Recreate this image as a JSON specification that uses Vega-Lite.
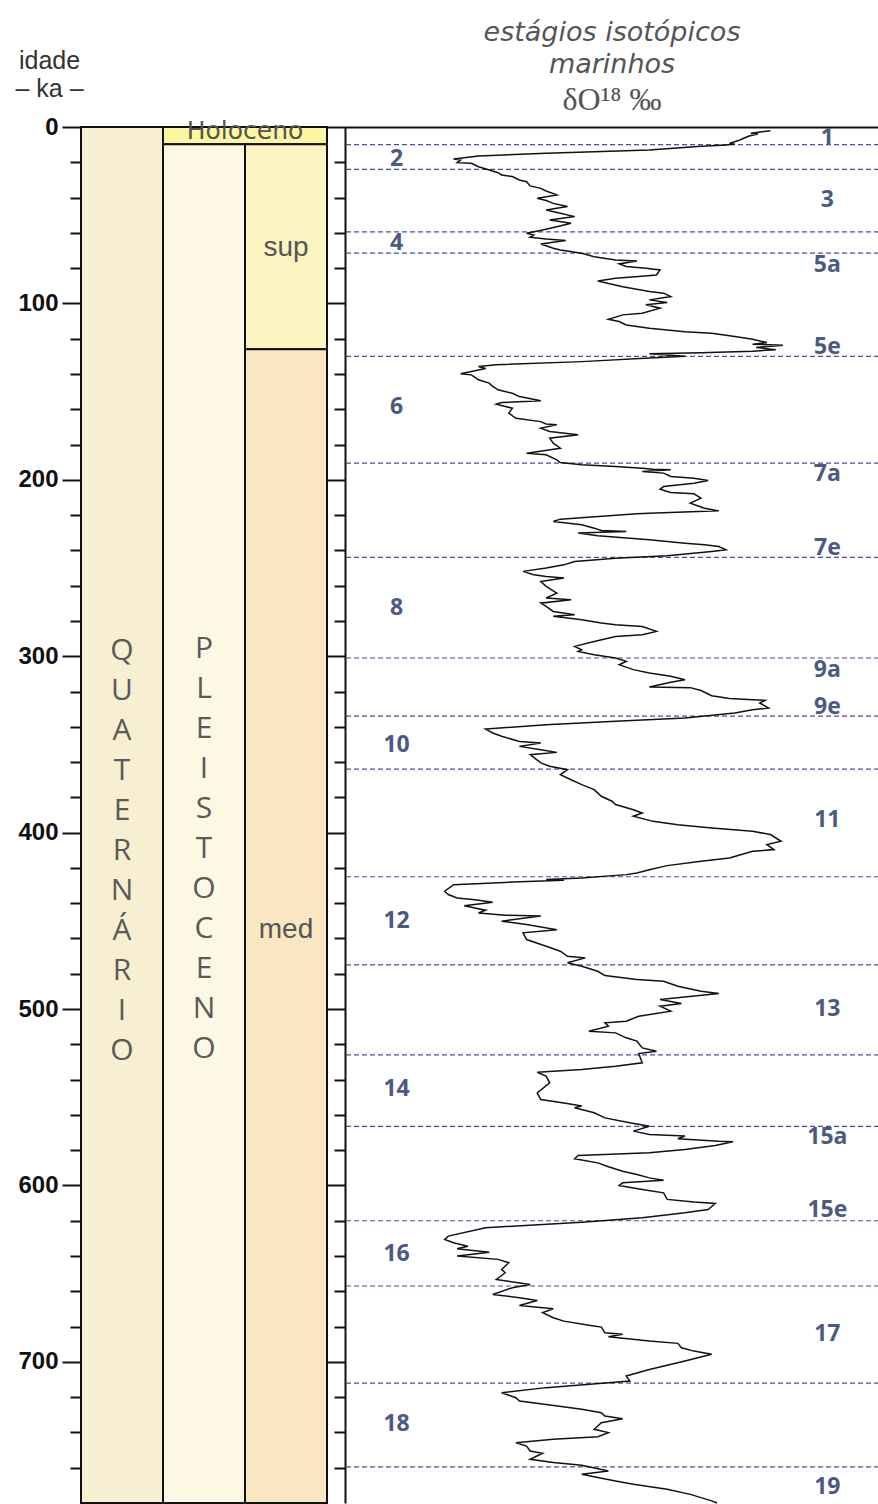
{
  "$schema": "https://vega.github.io/schema/vega-lite/v6.json",
  "background": "white",
  "padding": {"left": 14, "top": 19, "right": 0, "bottom": 0},
  "config": {
    "view": {"stroke": null},
    "axis": {"domainColor": "#111111", "tickColor": "#111111", "domainWidth": 2, "tickWidth": 2, "grid": false}
  },
  "datasets": {
    "units": [
      {"unit": "Quaternário", "c0": 0, "c1": 1, "ka0": 0, "ka1": 780},
      {"unit": "Holoceno", "c0": 1, "c1": 3, "ka0": 0, "ka1": 9.8},
      {"unit": "Pleistoceno", "c0": 1, "c1": 2, "ka0": 9.8, "ka1": 780},
      {"unit": "Pleistoceno superior", "c0": 2, "c1": 3, "ka0": 9.8, "ka1": 126},
      {"unit": "Pleistoceno médio", "c0": 2, "c1": 3, "ka0": 126, "ka1": 780}
    ],
    "unitLabels": [
      {"kind": "coluna", "label": "Q\nU\nA\nT\nE\nR\nN\nÁ\nR\nI\nO", "c": 0.5, "ka": 297},
      {"kind": "coluna", "label": "P\nL\nE\nI\nS\nT\nO\nC\nE\nN\nO", "c": 1.5, "ka": 296},
      {"kind": "holoceno", "label": "Holoceno", "c": 2, "ka": 2.2},
      {"kind": "sub", "label": "sup", "c": 2.5, "ka": 68.4},
      {"kind": "sub", "label": "med", "c": 2.5, "ka": 455.3}
    ],
    "stages": [
      {"ka": 10}, {"ka": 24}, {"ka": 59.5}, {"ka": 71.5}, {"ka": 130}, {"ka": 190.5},
      {"ka": 244}, {"ka": 301}, {"ka": 334}, {"ka": 364}, {"ka": 425}, {"ka": 475},
      {"ka": 526}, {"ka": 566.5}, {"ka": 620}, {"ka": 657}, {"ka": 712}, {"ka": 759.5}
    ],
    "stageLabels": [
      {"stage": "1", "ka": 6.4, "d18O": 2.89},
      {"stage": "2", "ka": 18.3, "d18O": 5.31},
      {"stage": "3", "ka": 41.4, "d18O": 2.89},
      {"stage": "4", "ka": 65.9, "d18O": 5.31},
      {"stage": "5a", "ka": 78.2, "d18O": 2.89},
      {"stage": "5e", "ka": 124.5, "d18O": 2.89},
      {"stage": "6", "ka": 158.8, "d18O": 5.31},
      {"stage": "7a", "ka": 196.6, "d18O": 2.89},
      {"stage": "7e", "ka": 238.7, "d18O": 2.89},
      {"stage": "8", "ka": 272.7, "d18O": 5.31},
      {"stage": "9a", "ka": 308, "d18O": 2.89},
      {"stage": "9e", "ka": 329, "d18O": 2.89},
      {"stage": "10", "ka": 350.1, "d18O": 5.31},
      {"stage": "11", "ka": 392.6, "d18O": 2.89},
      {"stage": "12", "ka": 450.2, "d18O": 5.31},
      {"stage": "13", "ka": 499.9, "d18O": 2.89},
      {"stage": "14", "ka": 545.6, "d18O": 5.31},
      {"stage": "15a", "ka": 572.4, "d18O": 2.89},
      {"stage": "15e", "ka": 614, "d18O": 2.89},
      {"stage": "16", "ka": 639.1, "d18O": 5.31},
      {"stage": "17", "ka": 684.4, "d18O": 2.89},
      {"stage": "18", "ka": 735.4, "d18O": 5.31},
      {"stage": "19", "ka": 770.7, "d18O": 2.89}
    ],
    "curve": [
      {"ka":2.1,"d18O":3.21},{"ka":3.6,"d18O":3.32},{"ka":4.0,"d18O":3.28},{"ka":5.1,"d18O":3.33},{"ka":6.4,"d18O":3.36},{"ka":7.7,"d18O":3.39},{"ka":9.3,"d18O":3.44},{"ka":9.6,"d18O":3.41},{"ka":10.2,"d18O":3.46},{"ka":11.1,"d18O":3.62},{"ka":13.0,"d18O":3.89},{"ka":14.9,"d18O":4.47},{"ka":16.4,"d18O":4.85},{"ka":18.1,"d18O":4.99},{"ka":18.7,"d18O":4.95},{"ka":20.2,"d18O":4.97},{"ka":20.6,"d18O":4.89},{"ka":22.5,"d18O":4.85},{"ka":24.4,"d18O":4.79},{"ka":25.9,"d18O":4.74},{"ka":27.2,"d18O":4.72},{"ka":28.1,"d18O":4.66},{"ka":30.0,"d18O":4.62},{"ka":31.0,"d18O":4.58},{"ka":33.4,"d18O":4.56},{"ka":34.8,"d18O":4.50},{"ka":36.3,"d18O":4.47},{"ka":38.5,"d18O":4.41},{"ka":40.4,"d18O":4.52},{"ka":41.7,"d18O":4.47},{"ka":43.3,"d18O":4.43},{"ka":45.1,"d18O":4.35},{"ka":47.0,"d18O":4.47},{"ka":48.9,"d18O":4.39},{"ka":50.8,"d18O":4.31},{"ka":52.7,"d18O":4.45},{"ka":54.6,"d18O":4.33},{"ka":56.5,"d18O":4.41},{"ka":58.4,"d18O":4.49},{"ka":60.2,"d18O":4.58},{"ka":61.2,"d18O":4.54},{"ka":62.5,"d18O":4.56},{"ka":63.5,"d18O":4.47},{"ka":64.4,"d18O":4.36},{"ka":66.3,"d18O":4.50},{"ka":68.7,"d18O":4.43},{"ka":69.7,"d18O":4.39},{"ka":71.6,"d18O":4.27},{"ka":73.5,"d18O":4.20},{"ka":75.4,"d18O":4.08},{"ka":75.9,"d18O":3.96},{"ka":77.6,"d18O":4.06},{"ka":79.1,"d18O":4.02},{"ka":80.1,"d18O":3.91},{"ka":81.0,"d18O":3.83},{"ka":83.9,"d18O":3.85},{"ka":84.8,"d18O":3.95},{"ka":85.7,"d18O":4.08},{"ka":87.3,"d18O":4.18},{"ka":90.5,"d18O":4.04},{"ka":93.3,"d18O":3.89},{"ka":94.2,"d18O":3.81},{"ka":96.1,"d18O":3.77},{"ka":98.0,"d18O":3.89},{"ka":99.5,"d18O":3.79},{"ka":100.8,"d18O":3.91},{"ka":102.7,"d18O":3.83},{"ka":105.6,"d18O":3.93},{"ka":106.5,"d18O":4.04},{"ka":109.0,"d18O":4.12},{"ka":110.3,"d18O":4.06},{"ka":112.2,"d18O":4.02},{"ka":114.1,"d18O":3.89},{"ka":116.0,"d18O":3.69},{"ka":116.9,"d18O":3.54},{"ka":118.8,"d18O":3.41},{"ka":120.3,"d18O":3.31},{"ka":122.2,"d18O":3.23},{"ka":123.1,"d18O":3.31},{"ka":123.7,"d18O":3.14},{"ka":125.0,"d18O":3.29},{"ka":126.2,"d18O":3.18},{"ka":127.1,"d18O":3.31},{"ka":127.9,"d18O":3.60},{"ka":128.6,"d18O":3.89},{"ka":129.9,"d18O":3.69},{"ka":130.9,"d18O":3.89},{"ka":133.0,"d18O":4.27},{"ka":134.8,"d18O":4.75},{"ka":135.8,"d18O":4.85},{"ka":136.9,"d18O":4.81},{"ka":139.9,"d18O":4.95},{"ka":140.5,"d18O":4.89},{"ka":143.3,"d18O":4.85},{"ka":145.2,"d18O":4.79},{"ka":147.1,"d18O":4.77},{"ka":149.0,"d18O":4.74},{"ka":150.9,"d18O":4.66},{"ka":152.8,"d18O":4.62},{"ka":155.2,"d18O":4.50},{"ka":156.2,"d18O":4.72},{"ka":157.1,"d18O":4.75},{"ka":159.4,"d18O":4.66},{"ka":162.2,"d18O":4.68},{"ka":165.1,"d18O":4.64},{"ka":167.0,"d18O":4.50},{"ka":168.3,"d18O":4.47},{"ka":168.8,"d18O":4.41},{"ka":170.7,"d18O":4.50},{"ka":172.6,"d18O":4.45},{"ka":174.5,"d18O":4.29},{"ka":176.4,"d18O":4.45},{"ka":179.2,"d18O":4.43},{"ka":182.1,"d18O":4.39},{"ka":184.9,"d18O":4.58},{"ka":185.8,"d18O":4.47},{"ka":188.7,"d18O":4.41},{"ka":190.2,"d18O":4.39},{"ka":191.5,"d18O":4.27},{"ka":192.4,"d18O":4.08},{"ka":193.4,"d18O":3.93},{"ka":194.0,"d18O":3.87},{"ka":194.3,"d18O":3.77},{"ka":195.3,"d18O":3.93},{"ka":196.2,"d18O":3.81},{"ka":198.1,"d18O":3.77},{"ka":199.1,"d18O":3.64},{"ka":200.4,"d18O":3.56},
      {"ka":201.9,"d18O":3.64},{"ka":203.8,"d18O":3.81},{"ka":205.3,"d18O":3.83},{"ka":207.2,"d18O":3.77},{"ka":207.9,"d18O":3.64},{"ka":210.4,"d18O":3.60},{"ka":213.2,"d18O":3.66},{"ka":214.7,"d18O":3.62},{"ka":216.1,"d18O":3.58},{"ka":217.6,"d18O":3.50},{"ka":218.9,"d18O":3.89},{"ka":219.3,"d18O":3.96},{"ka":222.3,"d18O":4.39},{"ka":223.6,"d18O":4.43},{"ka":225.5,"d18O":4.27},{"ka":227.4,"d18O":4.20},{"ka":228.7,"d18O":4.16},{"ka":229.3,"d18O":4.02},{"ka":230.2,"d18O":4.29},{"ka":231.7,"d18O":4.18},{"ka":234.0,"d18O":3.89},{"ka":235.9,"d18O":3.69},{"ka":236.8,"d18O":3.58},{"ka":237.8,"d18O":3.50},{"ka":239.7,"d18O":3.46},{"ka":240.6,"d18O":3.54},{"ka":243.1,"d18O":3.79},{"ka":244.4,"d18O":4.08},{"ka":246.3,"d18O":4.31},{"ka":248.2,"d18O":4.37},{"ka":250.0,"d18O":4.47},{"ka":251.9,"d18O":4.60},{"ka":253.8,"d18O":4.54},{"ka":254.8,"d18O":4.47},{"ka":255.7,"d18O":4.37},{"ka":257.6,"d18O":4.50},{"ka":260.4,"d18O":4.47},{"ka":264.2,"d18O":4.41},{"ka":267.0,"d18O":4.47},{"ka":268.0,"d18O":4.33},{"ka":269.9,"d18O":4.50},{"ka":271.8,"d18O":4.47},{"ka":274.6,"d18O":4.43},{"ka":276.5,"d18O":4.31},{"ka":277.4,"d18O":4.43},{"ka":279.3,"d18O":4.27},{"ka":281.2,"d18O":4.16},{"ka":282.2,"d18O":4.08},{"ka":283.1,"d18O":3.93},{"ka":285.9,"d18O":3.85},{"ka":287.8,"d18O":3.93},{"ka":288.8,"d18O":4.08},{"ka":291.6,"d18O":4.20},{"ka":294.4,"d18O":4.31},{"ka":296.3,"d18O":4.27},{"ka":297.3,"d18O":4.29},{"ka":299.2,"d18O":4.20},{"ka":301.0,"d18O":4.08},{"ka":302.9,"d18O":4.02},{"ka":304.8,"d18O":4.06},{"ka":307.6,"d18O":3.98},{"ka":309.5,"d18O":3.89},{"ka":311.4,"d18O":3.77},{"ka":313.3,"d18O":3.69},{"ka":314.8,"d18O":3.77},{"ka":317.5,"d18O":3.89},{"ka":317.8,"d18O":3.66},{"ka":319.4,"d18O":3.60},{"ka":322.4,"d18O":3.54},{"ka":323.9,"d18O":3.44},{"ka":324.6,"d18O":3.31},{"ka":325.0,"d18O":3.24},{"ka":326.5,"d18O":3.27},{"ka":329.4,"d18O":3.22},{"ka":330.3,"d18O":3.31},{"ka":332.2,"d18O":3.41},{"ka":335.0,"d18O":3.69},{"ka":336.9,"d18O":4.08},{"ka":338.8,"d18O":4.47},{"ka":341.3,"d18O":4.81},{"ka":343.5,"d18O":4.77},{"ka":345.4,"d18O":4.72},{"ka":348.3,"d18O":4.62},{"ka":349.2,"d18O":4.50},{"ka":351.1,"d18O":4.62},{"ka":353.0,"d18O":4.50},{"ka":354.5,"d18O":4.41},{"ka":355.8,"d18O":4.56},{"ka":360.5,"d18O":4.50},{"ka":362.4,"d18O":4.45},{"ka":364.3,"d18O":4.35},{"ka":367.1,"d18O":4.39},{"ka":370.0,"d18O":4.33},{"ka":372.8,"d18O":4.27},{"ka":375.6,"d18O":4.20},{"ka":379.4,"d18O":4.16},{"ka":382.2,"d18O":4.10},{"ka":384.1,"d18O":4.08},{"ka":387.0,"d18O":3.98},{"ka":388.9,"d18O":3.93},{"ka":390.7,"d18O":3.98},{"ka":393.6,"d18O":3.87},{"ka":395.5,"d18O":3.73},{"ka":397.4,"d18O":3.54},{"ka":399.2,"d18O":3.31},{"ka":401.1,"d18O":3.21},{"ka":404.9,"d18O":3.15},{"ka":406.8,"d18O":3.23},{"ka":409.6,"d18O":3.19},
      {"ka":410.6,"d18O":3.31},{"ka":414.4,"d18O":3.44},{"ka":416.2,"d18O":3.60},{"ka":418.7,"d18O":3.79},{"ka":421.0,"d18O":3.89},{"ka":422.9,"d18O":3.96},{"ka":423.8,"d18O":4.02},{"ka":425.7,"d18O":4.27},{"ka":426.6,"d18O":4.47},{"ka":427.0,"d18O":4.37},{"ka":428.0,"d18O":4.66},{"ka":429.5,"d18O":4.99},{"ka":433.2,"d18O":5.04},{"ka":435.1,"d18O":5.02},{"ka":437.0,"d18O":4.97},{"ka":438.0,"d18O":4.87},{"ka":439.5,"d18O":4.77},{"ka":441.4,"d18O":4.93},{"ka":444.0,"d18O":4.81},{"ka":445.5,"d18O":4.85},{"ka":446.8,"d18O":4.70},{"ka":447.2,"d18O":4.50},{"ka":450.2,"d18O":4.72},{"ka":452.1,"d18O":4.58},{"ka":455.0,"d18O":4.41},{"ka":456.8,"d18O":4.60},{"ka":460.6,"d18O":4.58},{"ka":464.4,"d18O":4.47},{"ka":467.2,"d18O":4.39},{"ka":470.1,"d18O":4.35},{"ka":471.0,"d18O":4.25},{"ka":473.8,"d18O":4.35},{"ka":475.7,"d18O":4.27},{"ka":478.6,"d18O":4.18},{"ka":481.0,"d18O":4.14},{"ka":483.3,"d18O":3.96},{"ka":484.2,"d18O":3.81},{"ka":487.1,"d18O":3.73},{"ka":489.9,"d18O":3.60},{"ka":491.2,"d18O":3.50},{"ka":494.6,"d18O":3.83},{"ka":496.9,"d18O":3.71},{"ka":498.4,"d18O":3.83},{"ka":501.2,"d18O":3.77},{"ka":504.1,"d18O":3.95},{"ka":506.9,"d18O":4.02},{"ka":507.8,"d18O":4.14},{"ka":509.7,"d18O":4.12},{"ka":512.6,"d18O":4.23},{"ka":513.5,"d18O":4.08},{"ka":516.3,"d18O":4.02},{"ka":518.2,"d18O":3.96},{"ka":522.0,"d18O":3.93},{"ka":523.9,"d18O":3.85},{"ka":525.2,"d18O":3.95},{"ka":530.5,"d18O":3.93},{"ka":532.4,"d18O":4.08},{"ka":534.3,"d18O":4.27},{"ka":535.8,"d18O":4.52},{"ka":538.0,"d18O":4.47},{"ka":541.8,"d18O":4.45},{"ka":547.5,"d18O":4.52},{"ka":551.3,"d18O":4.50},{"ka":553.2,"d18O":4.37},{"ka":555.0,"d18O":4.27},{"ka":556.0,"d18O":4.31},{"ka":558.8,"d18O":4.20},{"ka":561.7,"d18O":4.14},{"ka":564.5,"d18O":4.00},{"ka":566.4,"d18O":3.89},{"ka":569.2,"d18O":3.98},{"ka":571.1,"d18O":3.89},{"ka":572.0,"d18O":3.69},{"ka":573.5,"d18O":3.73},{"ka":574.9,"d18O":3.50},{"ka":575.2,"d18O":3.42},{"ka":577.3,"d18O":3.52},{"ka":579.6,"d18O":3.69},{"ka":581.5,"d18O":3.89},{"ka":583.0,"d18O":4.29},{"ka":584.9,"d18O":4.31},{"ka":587.2,"d18O":4.18},{"ka":589.4,"d18O":4.12},{"ka":591.9,"d18O":4.04},{"ka":593.8,"d18O":3.96},{"ka":595.7,"d18O":3.89},{"ka":597.0,"d18O":3.81},{"ka":598.5,"d18O":4.04},{"ka":600.0,"d18O":4.06},{"ka":602.3,"d18O":3.93},{"ka":604.2,"d18O":3.81},{"ka":607.9,"d18O":3.79},{"ka":609.4,"d18O":3.64},{"ka":610.2,"d18O":3.52},{"ka":613.6,"d18O":3.56},{"ka":615.5,"d18O":3.69},{"ka":618.3,"d18O":3.93},{"ka":620.8,"d18O":4.27},{"ka":624.0,"d18O":4.81},
      {"ka":628.7,"d18O":5.02},{"ka":630.6,"d18O":5.04},{"ka":632.5,"d18O":4.99},{"ka":634.4,"d18O":4.91},{"ka":635.9,"d18O":4.97},{"ka":637.8,"d18O":4.79},{"ka":640.0,"d18O":4.97},{"ka":641.9,"d18O":4.74},{"ka":643.8,"d18O":4.68},{"ka":647.6,"d18O":4.72},{"ka":649.5,"d18O":4.70},{"ka":653.3,"d18O":4.75},{"ka":656.1,"d18O":4.56},{"ka":658.0,"d18O":4.66},{"ka":661.8,"d18O":4.77},{"ka":663.6,"d18O":4.62},{"ka":665.2,"d18O":4.52},{"ka":668.0,"d18O":4.62},{"ka":669.9,"d18O":4.43},{"ka":672.1,"d18O":4.49},{"ka":675.0,"d18O":4.43},{"ka":676.9,"d18O":4.37},{"ka":679.3,"d18O":4.23},{"ka":680.3,"d18O":4.16},{"ka":683.5,"d18O":4.14},{"ka":684.4,"d18O":4.04},{"ka":685.7,"d18O":4.12},{"ka":688.2,"d18O":3.89},{"ka":689.5,"d18O":3.73},{"ka":692.0,"d18O":3.71},{"ka":693.9,"d18O":3.64},{"ka":695.7,"d18O":3.54},{"ka":699.5,"d18O":3.69},{"ka":704.3,"d18O":3.89},{"ka":708.0,"d18O":4.02},{"ka":710.9,"d18O":4.00},{"ka":711.8,"d18O":4.12},{"ka":714.6,"d18O":4.47},{"ka":717.5,"d18O":4.72},{"ka":720.3,"d18O":4.64},{"ka":722.2,"d18O":4.62},{"ka":724.1,"d18O":4.47},{"ka":726.9,"d18O":4.27},{"ka":728.8,"d18O":4.16},{"ka":730.7,"d18O":4.14},{"ka":732.2,"d18O":4.04},{"ka":734.5,"d18O":4.16},{"ka":738.2,"d18O":4.20},{"ka":740.1,"d18O":4.12},{"ka":742.4,"d18O":4.18},{"ka":743.9,"d18O":4.43},{"ka":745.8,"d18O":4.64},{"ka":747.7,"d18O":4.58},{"ka":750.5,"d18O":4.56},{"ka":751.8,"d18O":4.49},{"ka":755.2,"d18O":4.56},{"ka":757.1,"d18O":4.43},{"ka":758.6,"d18O":4.27},{"ka":761.9,"d18O":4.12},{"ka":763.7,"d18O":4.27},{"ka":765.6,"d18O":4.18},{"ka":767.5,"d18O":4.08},{"ka":769.4,"d18O":3.98},{"ka":772.2,"d18O":3.79},{"ka":775.1,"d18O":3.66},{"ka":778.8,"d18O":3.54},{"ka":780,"d18O":3.51}
    ]
  },
  "spacing": 18,
  "bounds": "flush",
  "hconcat": [
    {
      "width": 246,
      "height": 1376,
      "layer": [
        {
          "data": {"name": "units"},
          "mark": {"type": "rect", "stroke": "#111111", "strokeWidth": 2},
          "encoding": {
            "x": {"field": "c0", "type": "quantitative", "scale": {"domain": [0, 3], "nice": false, "zero": false}, "axis": null},
            "x2": {"field": "c1"},
            "y": {
              "field": "ka0", "type": "quantitative",
              "scale": {"domain": [0, 780], "nice": false, "zero": false, "reverse": true},
              "axis": {
                "orient": "left", "values": [0, 100, 200, 300, 400, 500, 600, 700],
                "tickSize": 19, "domain": false, "labelFont": "Liberation Sans", "labelFontWeight": "bold",
                "labelFontSize": 24, "labelColor": "#111111", "labelPadding": 4,
                "title": ["idade", "– ka –"], "titleAngle": 0, "titleAlign": "center", "titleBaseline": "alphabetic",
                "titleX": -32, "titleY": -59, "titleFont": "Liberation Sans", "titleFontSize": 25,
                "titleFontWeight": "normal", "titleColor": "#333333", "titleLineHeight": 28
              }
            },
            "y2": {"field": "ka1"},
            "fill": {
              "field": "unit", "type": "nominal", "legend": null,
              "scale": {
                "domain": ["Quaternário", "Holoceno", "Pleistoceno", "Pleistoceno superior", "Pleistoceno médio"],
                "range": ["#f8eed2", "#fcf7a0", "#fdf8e3", "#fbf3c0", "#f8e7c0"]
              }
            }
          }
        },
        {
          "data": {"name": "unitLabels"},
          "transform": [{"filter": "datum.kind === 'coluna'"}],
          "mark": {"type": "text", "font": "Open Sans", "fontSize": 30, "color": "#5a5a5a", "lineBreak": "\n", "lineHeight": 40, "align": "center", "baseline": "middle"},
          "encoding": {
            "x": {"field": "c", "type": "quantitative"},
            "y": {
              "field": "ka", "type": "quantitative",
              "axis": {
                "orient": "left", "values": [20, 40, 60, 80, 120, 140, 160, 180, 220, 240, 260, 280, 320, 340, 360, 380, 420, 440, 460, 480, 520, 540, 560, 580, 620, 640, 660, 680, 720, 740, 760],
                "tickSize": 11, "domain": false, "labels": false, "title": null
              }
            },
            "text": {"field": "label"}
          }
        },
        {
          "data": {"name": "unitLabels"},
          "transform": [{"filter": "datum.kind === 'holoceno'"}],
          "mark": {"type": "text", "font": "DejaVu Sans", "fontSize": 25, "color": "#555555", "align": "center", "baseline": "middle"},
          "encoding": {
            "x": {"field": "c", "type": "quantitative"},
            "y": {"field": "ka", "type": "quantitative", "axis": null},
            "text": {"field": "label"}
          }
        },
        {
          "data": {"name": "unitLabels"},
          "transform": [{"filter": "datum.kind === 'sub'"}],
          "mark": {"type": "text", "font": "Liberation Sans", "fontSize": 28, "color": "#555555", "align": "center", "baseline": "middle"},
          "encoding": {
            "x": {"field": "c", "type": "quantitative"},
            "y": {"field": "ka", "type": "quantitative", "axis": null},
            "text": {"field": "label"}
          }
        }
      ],
      "resolve": {"axis": {"y": "independent"}}
    },
    {
      "width": 534,
      "height": 1376,
      "title": {
        "text": ["estágios isotópicos", "marinhos"],
        "subtitle": "δO¹⁸ ‰",
        "anchor": "middle", "frame": "group",
        "font": "DejaVu Sans", "fontStyle": "italic", "fontWeight": "normal", "fontSize": 27, "lineHeight": 32,
        "color": "#555555",
        "subtitleFont": "Liberation Serif", "subtitleFontSize": 32, "subtitleColor": "#555555", "subtitlePadding": 6,
        "offset": 9
      },
      "layer": [
        {
          "data": {"name": "stages"},
          "mark": {"type": "rule", "color": "#4d4d99", "strokeWidth": 1.2, "strokeDash": [5, 3]},
          "encoding": {
            "y": {
              "field": "ka", "type": "quantitative",
              "scale": {"domain": [0, 780], "nice": false, "zero": false, "reverse": true},
              "axis": {
                "orient": "left", "values": [0, 100, 200, 300, 400, 500, 600, 700],
                "tickSize": 19, "domain": true, "labels": false, "title": null
              }
            }
          }
        },
        {
          "data": {"name": "stageLabels"},
          "mark": {"type": "text", "font": "Open Sans", "fontWeight": "bold", "fontSize": 23, "color": "#4b5a82", "align": "center", "baseline": "middle"},
          "encoding": {
            "x": {"field": "d18O", "type": "quantitative", "scale": {"domain": [2.6, 5.6], "reverse": true, "nice": false, "zero": false}},
            "y": {
              "field": "ka", "type": "quantitative",
              "axis": {
                "orient": "left", "values": [20, 40, 60, 80, 120, 140, 160, 180, 220, 240, 260, 280, 320, 340, 360, 380, 420, 440, 460, 480, 520, 540, 560, 580, 620, 640, 660, 680, 720, 740, 760],
                "tickSize": 11, "domain": false, "labels": false, "title": null
              }
            },
            "text": {"field": "stage"}
          }
        },
        {
          "data": {"name": "curve"},
          "mark": {"type": "line", "color": "#111111", "strokeWidth": 1.5},
          "encoding": {
            "x": {
              "field": "d18O", "type": "quantitative",
              "axis": {"orient": "top", "domain": true, "ticks": false, "labels": false, "title": null}
            },
            "y": {"field": "ka", "type": "quantitative", "axis": null},
            "order": {"value": null}
          }
        }
      ],
      "resolve": {"axis": {"y": "independent"}}
    }
  ]
}
